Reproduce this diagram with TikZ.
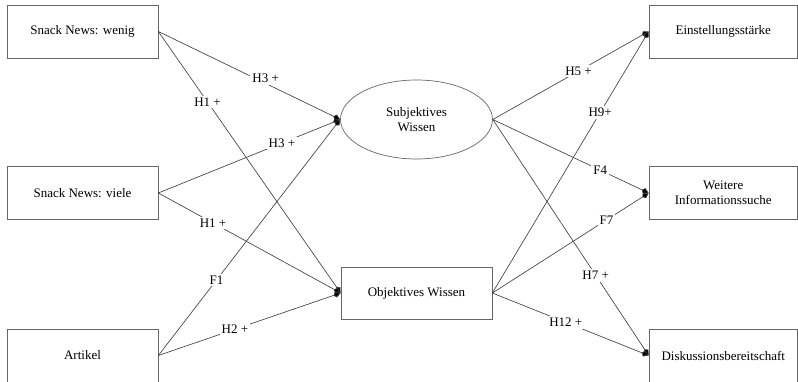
\documentclass[tikz,border=0pt]{standalone}
\usepackage{fontspec}
\setmainfont{Liberation Serif}
\usetikzlibrary{shapes.geometric,arrows.meta}
\begin{document}
\begin{tikzpicture}[x=1pt,y=-1pt,
  every node/.style={font=\fontsize{13}{15.5}\selectfont},
  varbox/.style={draw=black!60, line width=0.7pt, minimum height=53pt, inner sep=0pt},
  leftbox/.style={varbox, minimum width=151pt},
  rightbox/.style={varbox, minimum width=148.5pt, align=center},
  path/.style={draw=black!75, line width=0.65pt, -{Kite[length=7.5pt,width=6pt,inset=2.5pt,fill=black]}},
  lbl/.style={fill=white, inner sep=2pt}]
  \useasboundingbox (0,0) rectangle (798,382);

  % exogenous variables
  \node[leftbox] (wenig) at (82.5,31.5) {Snack News: wenig};
  \node[leftbox] (viele) at (82.5,193) {Snack News: viele};
  \node[leftbox] (artikel) at (82.5,355.5) {Artikel};

  % mediators
  \node[draw=black!60, line width=0.7pt, ellipse, minimum width=152pt, minimum height=79pt, inner sep=0pt, align=center] (subj) at (416.5,119.5) {Subjektives\\Wissen};
  \node[varbox, minimum width=151pt, minimum height=52pt] (obj) at (416.5,293) {Objektives Wissen};

  % outcomes
  \node[rightbox] (einst) at (723.25,31.5) {Einstellungsstärke};
  \node[rightbox] (info) at (723.25,193) {Weitere\\Informationssuche};
  \node[rightbox] (disk) at (723.25,355.5) {Diskussionsbereitschaft};

  % paths from the conditions
  \draw[path] (wenig.east) -- node[lbl, pos=0.59, yshift=5pt] {H3 +} (subj.west);
  \draw[path] (wenig.east) -- node[lbl, pos=0.27] {H1 +} (obj.west);
  \draw[path] (viele.east) -- node[lbl, pos=0.68] {H3 +} (subj.west);
  \draw[path] (viele.east) -- node[lbl, pos=0.30] {H1 +} (obj.west);
  \draw[path] (artikel.east) -- node[lbl, pos=0.32] {F1} (subj.west);
  \draw[path] (artikel.east) -- node[lbl, pos=0.42] {H2 +} (obj.west);

  % paths to the outcomes
  \draw[path] (subj.east) -- node[lbl, pos=0.55] {H5 +} (einst.west);
  \draw[path] (subj.east) -- node[lbl, pos=0.69] {F4} (info.west);
  \draw[path] (subj.east) -- node[lbl, pos=0.66] {H7 +} (disk.west);
  \draw[path] (obj.east) -- node[lbl, pos=0.69] {H9+} (einst.west);
  \draw[path] (obj.east) -- node[lbl, pos=0.73] {F7} (info.west);
  \draw[path] (obj.east) -- node[lbl, pos=0.47] {H12 +} (disk.west);
\end{tikzpicture}
\end{document}
